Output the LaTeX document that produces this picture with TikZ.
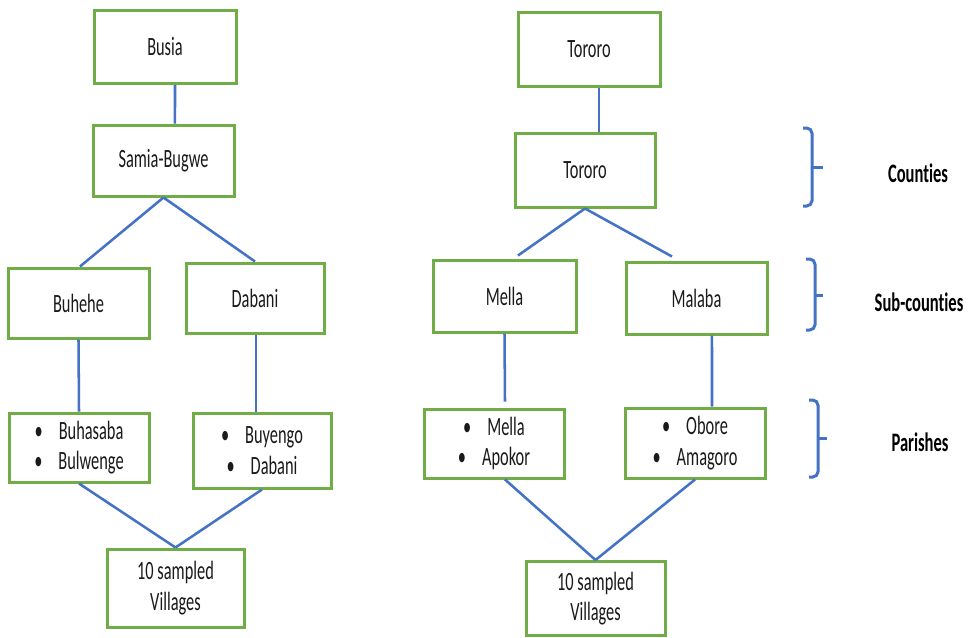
\documentclass[tikz,border=0pt]{standalone}
\usepackage{fontspec}
\usepackage{xcolor}
\newfontfamily\boxfont{Carlito}[FakeStretch=0.62,Ligatures=CommonOff]
\usetikzlibrary{positioning,calc}

\begin{document}
\begin{tikzpicture}[x=0.75pt,y=-0.75pt]

	% ============================================================
	% COLORS
	% ============================================================
	\definecolor{boxStroke}{HTML}{70AD47}
	\definecolor{linkStroke}{HTML}{4472C4}
	\definecolor{text}{HTML}{1A1A1A}

	% ============================================================
	% STYLES
	% ============================================================
	\tikzset{
		box/.style={
			draw=boxStroke,
			line width=2.25pt,
			fill=white,
			align=center,
			inner sep=2pt,
			font=\boxfont\fontsize{19.8}{23}\selectfont,
			text=text
		},
		link/.style={draw=linkStroke,line width=1.9pt},
		brc/.style={draw=linkStroke,line width=2.25pt,rounded corners=4pt},
		lbl/.style={font=\boxfont\bfseries\fontsize{20}{23}\selectfont,text=black}
	}

	% ============================================================
	% CANVAS
	% ============================================================
	\fill[white] (0,0) rectangle (970,637);
	\useasboundingbox (0,0) rectangle (970,637);

	% ============================================================
	% LEFT TREE - BUSIA
	% ============================================================
	\node[box, minimum width=106.5pt, minimum height=54.75pt] (busia)    at (165,47)    {Busia};
	\node[box, minimum width=105.75pt, minimum height=53.25pt] (samia)   at (163.5,160.5) {Samia-Bugwe};
	\node[box, minimum width=105.75pt, minimum height=52.5pt] (buhehe)   at (78.5,303)  {Buhehe};
	\node[box, minimum width=103.5pt, minimum height=52.5pt] (dabani)    at (255,298)   {Dabani};
	\node[box, minimum width=105pt, minimum height=51.75pt] (buhasaba)   at (79,447.5)  {\textbullet\hspace{12pt}Buhasaba\\\textbullet\hspace{12pt}Bulwenge};
	\node[box, minimum width=103.5pt, minimum height=56.25pt] (buyengo)  at (262,450.5) {\textbullet\hspace{12pt}Buyengo\\\textbullet\hspace{12pt}Dabani};
	\node[box, minimum width=102.75pt, minimum height=58.5pt] (villBusia) at (175.5,588) {10 sampled\\Villages};

	% ============================================================
	% RIGHT TREE - TORORO
	% ============================================================
	\node[box, minimum width=106.5pt, minimum height=55.5pt] (tororoTop) at (589,49)    {Tororo};
	\node[box, minimum width=105pt, minimum height=55.5pt] (tororo)      at (585,170)   {Tororo};
	\node[box, minimum width=107.25pt, minimum height=54pt] (mella)      at (504.5,296) {Mella};
	\node[box, minimum width=105.75pt, minimum height=54pt] (malaba)     at (696.5,298) {Malaba};
	\node[box, minimum width=105pt, minimum height=51.75pt] (mellaPar)   at (494,443.5) {\textbullet\hspace{12pt}Mella\\\textbullet\hspace{12pt}Apokor};
	\node[box, minimum width=105pt, minimum height=52.5pt] (obore)       at (695,443)   {\textbullet\hspace{12pt}Obore\\\textbullet\hspace{12pt}Amagoro};
	\node[box, minimum width=104.25pt, minimum height=55.5pt] (villTororo) at (595.5,598.5) {10 sampled\\Villages};

	% ============================================================
	% LINKS - LEFT TREE
	% ============================================================
	\draw[link] ([xshift=7.5pt]busia.south) -- ([xshift=8.6pt]samia.north);
	\draw[link] (samia.south) -- ([xshift=1.1pt]buhehe.north);
	\draw[link] (samia.south) -- (dabani.north);
	\draw[link] (buhehe.south) -- (buhasaba.north);
	\draw[link] ([xshift=0.75pt]dabani.south) -- ([xshift=-4.5pt]buyengo.north);
	\draw[link] (buhasaba.south) -- (villBusia.north);
	\draw[link] (buyengo.south) -- (villBusia.north);

	% ============================================================
	% LINKS - RIGHT TREE
	% ============================================================
	\draw[link] ([xshift=7.5pt]tororoTop.south) -- ([xshift=10.5pt]tororo.north);
	\draw[link] (tororo.south) -- ([xshift=10.1pt,yshift=2.25pt]mella.north);
	\draw[link] (tororo.south) -- ([xshift=-18.4pt,yshift=3pt]malaba.north);
	\draw[link] (mella.south) -- ([xshift=8.25pt,yshift=4.5pt]mellaPar.north);
	\draw[link] ([xshift=11.6pt]malaba.south) -- ([xshift=12.75pt]obore.north);
	\draw[link] ([xshift=8.25pt]mellaPar.south) -- (villTororo.north);
	\draw[link] (obore.south) -- (villTororo.north);

	% ============================================================
	% BRACES AND LEVEL LABELS
	% ============================================================
	\draw[brc] (803,128) -| (812,206) -- (803,206);
	\draw[brc] (812,167) -- (823,167);
	\draw[brc] (806,259) -| (815,330) -- (806,330);
	\draw[brc] (815,295) -- (823,295);
	\draw[brc] (809,400) -| (818,477) -- (809,477);
	\draw[brc] (818,438) -- (827,438);

	\node[lbl] (counties) at (918,173) {Counties};
	\node[lbl] (subcounties) at (919,302) {Sub-counties};
	\node[lbl] (parishes) at (920,442) {Parishes};

\end{tikzpicture}
\end{document}
